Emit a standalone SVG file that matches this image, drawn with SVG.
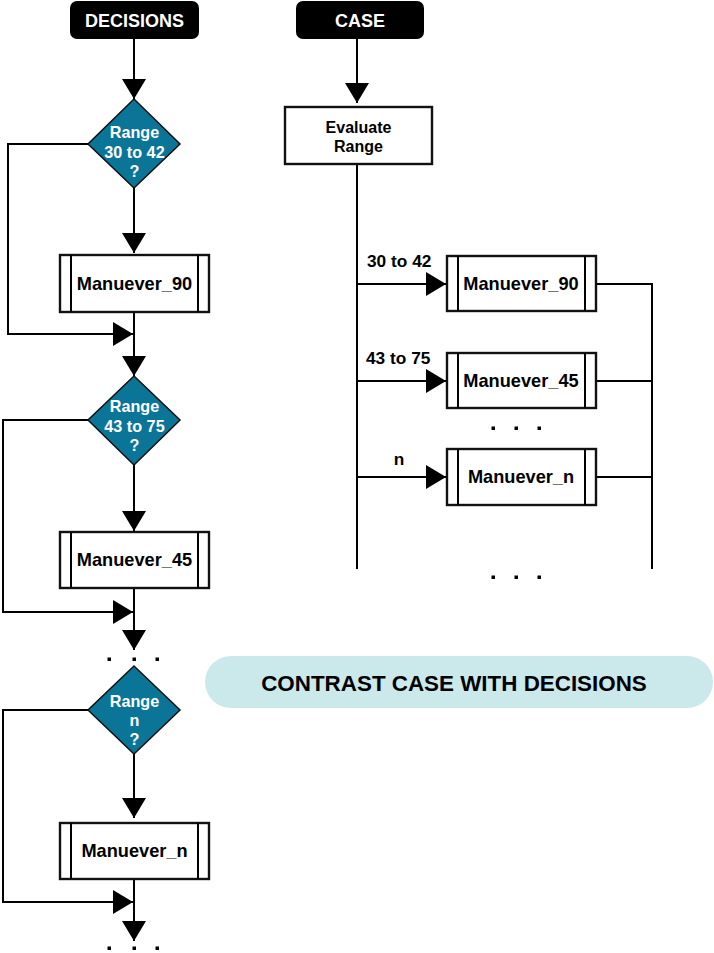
<svg xmlns="http://www.w3.org/2000/svg" width="714" height="953" viewBox="0 0 714 953">
<style>
  .bg{fill:#ffffff}
  .term{fill:#000000}
  .termtxt{fill:#ffffff;font-family:"Liberation Sans",Arial,sans-serif;font-weight:bold;font-size:18px;text-anchor:middle}
  .dia{fill:#0B7598;stroke:#111111;stroke-width:1.5}
  .diatxt{fill:#ffffff;font-family:"Liberation Sans",Arial,sans-serif;font-weight:bold;font-size:16.2px;text-anchor:middle}
  .box{fill:#ffffff;stroke:#111111;stroke-width:2.4}
  .boxtxt{fill:#000000;font-family:"Liberation Sans",Arial,sans-serif;font-weight:bold;font-size:18.2px;text-anchor:middle}
  .evtxt{fill:#000000;font-family:"Liberation Sans",Arial,sans-serif;font-weight:bold;font-size:16px;text-anchor:middle}
  .lbl{fill:#000000;font-family:"Liberation Sans",Arial,sans-serif;font-weight:bold;font-size:17.3px}
  .line{fill:none;stroke:#000000;stroke-width:2}
  .arr{marker-end:url(#head)}
  .dot{fill:#000000}
  .pill{fill:#CBE8EB}
  .pilltxt{fill:#000000;font-family:"Liberation Sans",Arial,sans-serif;font-weight:bold;font-size:22.4px;text-anchor:middle}
</style>
<defs>
  <marker id="head" viewBox="0 0 20 24" markerWidth="20" markerHeight="24" refX="20" refY="12" markerUnits="userSpaceOnUse" orient="auto">
    <path d="M0,0 L20,12 L0,24 Z" fill="#000000"/>
  </marker>
</defs>
<rect class="bg" x="0" y="0" width="714" height="953"/>

<g id="connectors">
  <!-- decisions column -->
  <path class="line arr" d="M134,39 V99"/>
  <path class="line arr" d="M134,188 V253"/>
  <path class="line arr" d="M134,312 V376"/>
  <path class="line arr" d="M88,144 H8 V334 H133"/>
  <path class="line arr" d="M134,465 V531"/>
  <path class="line arr" d="M134,588 V650"/>
  <path class="line arr" d="M88,420 H3 V612 H133"/>
  <path class="line arr" d="M134,754 V818"/>
  <path class="line arr" d="M134,879 V941"/>
  <path class="line arr" d="M88,710 H3 V902 H133"/>
  <!-- case column -->
  <path class="line arr" d="M357,39 V103"/>
  <path class="line" d="M357,164 V569"/>
  <path class="line arr" d="M357,284 H446"/>
  <path class="line arr" d="M357,381 H446"/>
  <path class="line arr" d="M357,477 H446"/>
  <path class="line" d="M596,284 H652 V569"/>
  <path class="line" d="M596,381 H652"/>
  <path class="line" d="M596,477 H652"/>
</g>

<g id="decisions">
  <rect class="term" x="70" y="1" width="129" height="38" rx="7"/>
  <text class="termtxt" x="134.5" y="27">DECISIONS</text>
</g>

<g id="case">
  <rect class="term" x="296" y="1" width="128" height="38" rx="7"/>
  <text class="termtxt" x="360" y="27">CASE</text>
</g>

<g id="range1">
  <polygon class="dia" points="134,99 180,144 134,188 88,144"/>
  <text class="diatxt" x="134.5" y="138">Range</text>
  <text class="diatxt" x="134.5" y="158">30 to 42</text>
  <text class="diatxt" x="134.5" y="177">?</text>
</g>

<g id="maneuver90-left">
  <rect class="box" x="60" y="255" width="149" height="57"/>
  <path class="line" d="M71,255 V312 M198,255 V312"/>
  <text class="boxtxt" x="134.5" y="290">Manuever_90</text>
</g>

<g id="range2">
  <polygon class="dia" points="134,376 180,420 134,465 88,420"/>
  <text class="diatxt" x="134.5" y="412">Range</text>
  <text class="diatxt" x="134.5" y="432">43 to 75</text>
  <text class="diatxt" x="134.5" y="451">?</text>
</g>

<g id="maneuver45-left">
  <rect class="box" x="60" y="532" width="149" height="56"/>
  <path class="line" d="M71,532 V588 M198,532 V588"/>
  <text class="boxtxt" x="134.5" y="566">Manuever_45</text>
</g>

<g id="dots-left-1">
  <rect class="dot" x="107.5" y="657.5" width="3.5" height="3.5"/>
  <rect class="dot" x="132.5" y="657.5" width="3.5" height="3.5"/>
  <rect class="dot" x="155.5" y="657.5" width="3.5" height="3.5"/>
</g>

<g id="rangen">
  <polygon class="dia" points="134,666 180,710 134,754 88,710"/>
  <text class="diatxt" x="134.5" y="707">Range</text>
  <text class="diatxt" x="134.5" y="726">n</text>
  <text class="diatxt" x="134.5" y="745">?</text>
</g>

<g id="maneuvern-left">
  <rect class="box" x="60" y="823" width="149" height="56"/>
  <path class="line" d="M71,823 V879 M198,823 V879"/>
  <text class="boxtxt" x="134.5" y="857">Manuever_n</text>
</g>

<g id="dots-left-2">
  <rect class="dot" x="107.5" y="946.5" width="3.5" height="3.5"/>
  <rect class="dot" x="132.5" y="946.5" width="3.5" height="3.5"/>
  <rect class="dot" x="155.5" y="946.5" width="3.5" height="3.5"/>
</g>

<g id="evaluate">
  <rect class="box" x="285" y="107" width="147" height="57"/>
  <text class="evtxt" x="358.5" y="133">Evaluate</text>
  <text class="evtxt" x="358.5" y="152">Range</text>
</g>

<g id="labels">
  <text class="lbl" x="367" y="267">30 to 42</text>
  <text class="lbl" x="366" y="364">43 to 75</text>
  <text class="lbl" x="399" y="465" text-anchor="middle">n</text>
</g>

<g id="maneuver90-right">
  <rect class="box" x="447" y="256" width="149" height="55"/>
  <path class="line" d="M458,256 V311 M585,256 V311"/>
  <text class="boxtxt" x="521" y="290">Manuever_90</text>
</g>

<g id="maneuver45-right">
  <rect class="box" x="447" y="353" width="149" height="55"/>
  <path class="line" d="M458,353 V408 M585,353 V408"/>
  <text class="boxtxt" x="521" y="387">Manuever_45</text>
</g>

<g id="dots-right-1">
  <rect class="dot" x="491.5" y="426.5" width="3.5" height="3.5"/>
  <rect class="dot" x="514.5" y="426.5" width="3.5" height="3.5"/>
  <rect class="dot" x="537.5" y="426.5" width="3.5" height="3.5"/>
</g>

<g id="maneuvern-right">
  <rect class="box" x="447" y="449" width="149" height="56"/>
  <path class="line" d="M458,449 V505 M585,449 V505"/>
  <text class="boxtxt" x="521" y="483">Manuever_n</text>
</g>

<g id="dots-right-2">
  <rect class="dot" x="491.5" y="575.5" width="3.5" height="3.5"/>
  <rect class="dot" x="514.5" y="575.5" width="3.5" height="3.5"/>
  <rect class="dot" x="537.5" y="575.5" width="3.5" height="3.5"/>
</g>

<g id="contrast">
  <rect class="pill" x="205" y="656" width="508" height="52" rx="26"/>
  <text class="pilltxt" x="454" y="691">CONTRAST CASE WITH DECISIONS</text>
</g>
</svg>
